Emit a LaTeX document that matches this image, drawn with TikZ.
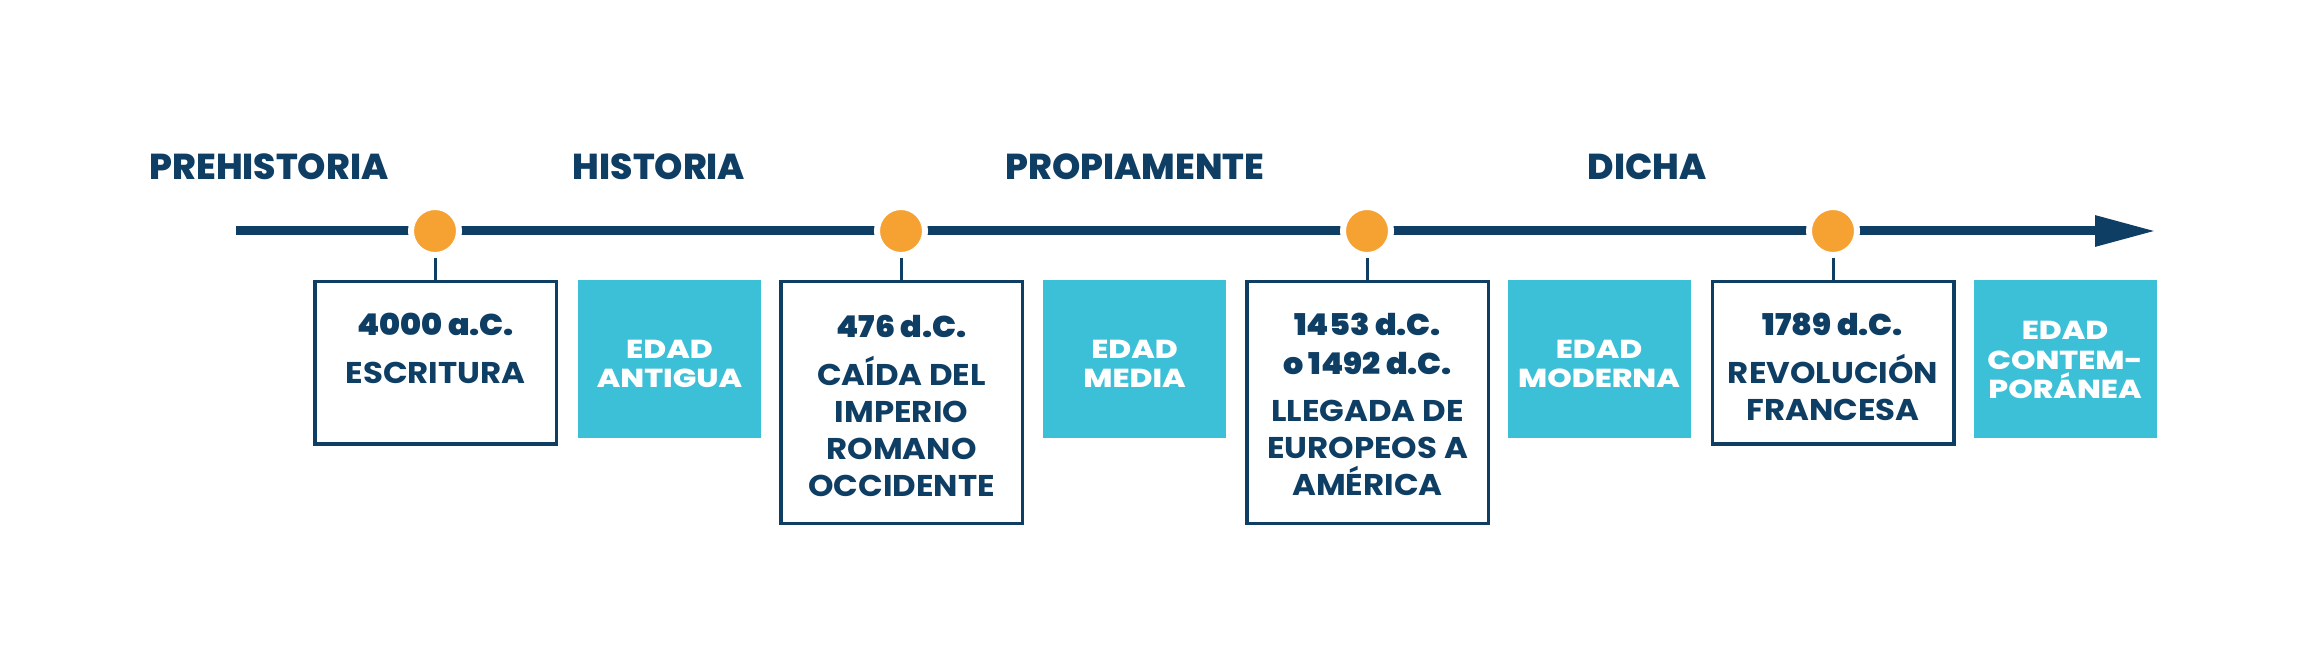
\documentclass[tikz,border=0pt]{standalone}
\usepackage{fontspec}
\setmainfont{Poppins}
\newfontfamily\fdesc{Poppins Bold}[FakeStretch=1.08]
\newfontfamily\fdate{Poppins Black}[FakeStretch=1.06]
\newfontfamily\fera{Poppins ExtraBold}[FakeStretch=1.2]
\newfontfamily\fheavy{Poppins ExtraBold}
\usetikzlibrary{arrows.meta}
\definecolor{navy}{HTML}{0F3E64}
\definecolor{dotorange}{HTML}{F6A232}
\definecolor{cyanbox}{HTML}{3CC0D7}
\tikzset{
  timeline/.style={draw=navy, line width=4.5pt, -{Triangle[length=30.5pt,width=14.5pt]}},
  dot/.style={circle, fill=dotorange, draw=white, line width=3pt, minimum size=24pt, inner sep=0pt},
  tick/.style={draw=navy, line width=1.5pt},
  wbox/.style={draw=navy, fill=white, line width=1.75pt, minimum width=120.75pt, inner sep=0pt},
  wtext/.style={text=navy, align=center, inner sep=0pt, anchor=north, font=\fdesc\fontsize{15}{18.5}\selectfont},
  cbox/.style={fill=cyanbox, minimum width=91.5pt, minimum height=79pt, inner sep=0pt},
  ctext/.style={text=white, inner sep=0pt, align=center, font=\fera\fontsize{13}{14.7}\selectfont},
  header/.style={text=navy, anchor=base, inner sep=0pt, font=\fheavy\fontsize{18}{20}\selectfont},
}
\newcommand{\datetxt}[1]{{\fdate #1}}
\begin{document}
\begin{tikzpicture}[x=0.5pt,y=-0.5pt]
\useasboundingbox[fill=white] (0,0) rectangle (2313,646);
% headers
\node[header] (h1) at (269,180) {PREHISTORIA};
\node[header] (h2) at (659,180) {HISTORIA};
\node[header] (h3) at (1135,180) {PROPIAMENTE};
\node[header] (h4) at (1647,180) {DICHA};
% timeline
\coordinate (tstart) at (236,231);
\coordinate (tend) at (2156,231);
\draw[timeline] (tstart) -- (tend);
\node[dot] (d1) at (435,231) {};
\node[dot] (d2) at (901,231) {};
\node[dot] (d3) at (1367,231) {};
\node[dot] (d4) at (1833,231) {};
% event boxes
\node[wbox, minimum height=81.25pt] (b1) at (435.5,363) {};
\node[wbox, minimum height=120.75pt] (b2) at (901.5,402.5) {};
\node[wbox, minimum height=120.75pt] (b3) at (1367.5,402.5) {};
\node[wbox, minimum height=81.25pt] (b4) at (1833,363) {};
\draw[tick] (d1.south) -- (d1.south |- b1.north);
\draw[tick] (d2.south) -- (d2.south |- b2.north);
\draw[tick] (d3.south) -- (d3.south |- b3.north);
\draw[tick] (d4.south) -- (d4.south |- b4.north);
\node[wtext] (t1) at (435.5,313) {\datetxt{4000 a.C.}\\[5.5pt]ESCRITURA};
\node[wtext] (t2) at (901.5,315) {\datetxt{476 d.C.}\\[5.5pt]CAÍDA DEL\\IMPERIO\\ROMANO\\OCCIDENTE};
\node[wtext] (t3) at (1367.5,313) {\datetxt{1453 d.C.}\\[1pt]\datetxt{o 1492 d.C.}\\[5pt]LLEGADA DE\\EUROPEOS A\\AMÉRICA};
\node[wtext] (t4) at (1833,313) {\datetxt{1789 d.C.}\\[5.5pt]REVOLUCIÓN\\FRANCESA};
% era boxes
\node[cbox] (c1) at (669.5,359) {};
\node[cbox] (c2) at (1134.5,359) {};
\node[cbox] (c3) at (1599,359) {};
\node[cbox] (c4) at (2065,359) {};
\node[ctext] (e1) at (669.5,364) {EDAD\\ANTIGUA};
\node[ctext] (e2) at (1134.5,364) {EDAD\\MEDIA};
\node[ctext] (e3) at (1599,364) {EDAD\\MODERNA};
\node[ctext] (e4) at (2065,360) {EDAD\\CONTEM-\\PORÁNEA};
\end{tikzpicture}
\end{document}
